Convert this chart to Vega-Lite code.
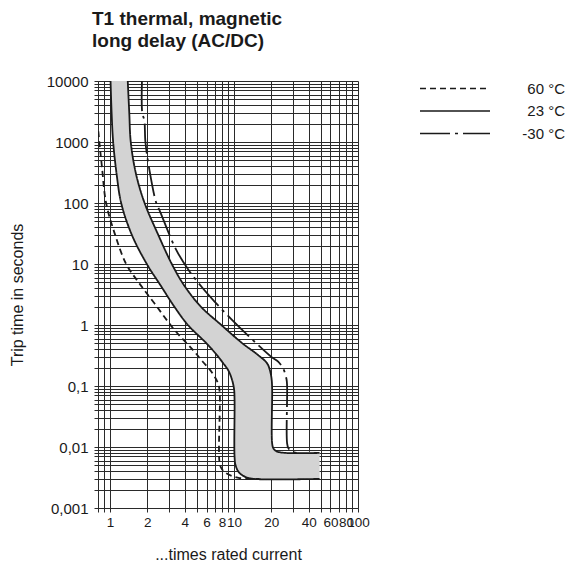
{
  "$schema": "https://vega.github.io/schema/vega-lite/v6.json",
  "width": 260,
  "height": 427,
  "autosize": {"type": "none"},
  "padding": {"left": 98, "top": 81, "right": 210, "bottom": 55},
  "background": "white",
  "title": {
    "text": ["T1 thermal, magnetic", "long delay (AC/DC)"],
    "anchor": "start",
    "frame": "group",
    "fontSize": 19,
    "fontWeight": "bold",
    "font": "Liberation Sans",
    "lineHeight": 22,
    "offset": 23,
    "dx": -6,
    "color": "#1a1a1a"
  },
  "config": {
    "view": {"stroke": null},
    "axis": {
      "grid": true,
      "gridColor": "#2a2a2a",
      "gridWidth": 1,
      "gridOpacity": 1,
      "domainColor": "#2a2a2a",
      "tickColor": "#2a2a2a",
      "tickSize": 4,
      "labelFont": "Liberation Sans",
      "labelFontSize": 15,
      "labelColor": "#1a1a1a",
      "titleFont": "Liberation Sans",
      "titleFontSize": 16,
      "titleFontWeight": "normal",
      "titleColor": "#1a1a1a",
      "labelOverlap": false,
      "labelFlush": false
    }
  },
  "datasets": {
    "band": [
      {"y": 10000, "xl": 1.01, "xr": 1.39},
      {"y": 3000, "xl": 1.03, "xr": 1.43},
      {"y": 1000, "xl": 1.06, "xr": 1.47},
      {"y": 300, "xl": 1.13, "xr": 1.62},
      {"y": 100, "xl": 1.23, "xr": 1.9},
      {"y": 30, "xl": 1.5, "xr": 2.45},
      {"y": 10, "xl": 1.98, "xr": 3.15},
      {"y": 4.5, "xl": 2.55, "xr": 3.95},
      {"y": 2.0, "xl": 3.3, "xr": 5.4},
      {"y": 1.0, "xl": 4.25, "xr": 7.9},
      {"y": 0.5, "xl": 6.0, "xr": 11.7},
      {"y": 0.33, "xl": 7.2, "xr": 15.4},
      {"y": 0.235, "xl": 8.2, "xr": 18.5},
      {"y": 0.18, "xl": 9.0, "xr": 19.5},
      {"y": 0.13, "xl": 9.6, "xr": 20.1},
      {"y": 0.09, "xl": 10.0, "xr": 20.3},
      {"y": 0.06, "xl": 10.1, "xr": 20.3},
      {"y": 0.0115, "xl": 10.1, "xr": 20.3},
      {"y": 0.0095, "xl": 10.1, "xr": 20.8},
      {"y": 0.0085, "xl": 10.1, "xr": 22},
      {"y": 0.008, "xl": 10.1, "xr": 26},
      {"y": 0.008, "xl": 10.1, "xr": 49},
      {"y": 0.007, "xl": 10.1, "xr": 49},
      {"y": 0.005, "xl": 10.3, "xr": 49},
      {"y": 0.0038, "xl": 11, "xr": 49},
      {"y": 0.0032, "xl": 12.5, "xr": 49},
      {"y": 0.003, "xl": 14.5, "xr": 49}
    ],
    "curves": [
      {"curve": "23min", "series": "23 °C", "x": 1.01, "y": 10000},
      {"curve": "23min", "series": "23 °C", "x": 1.03, "y": 3000},
      {"curve": "23min", "series": "23 °C", "x": 1.06, "y": 1000},
      {"curve": "23min", "series": "23 °C", "x": 1.13, "y": 300},
      {"curve": "23min", "series": "23 °C", "x": 1.23, "y": 100},
      {"curve": "23min", "series": "23 °C", "x": 1.5, "y": 30},
      {"curve": "23min", "series": "23 °C", "x": 1.98, "y": 10},
      {"curve": "23min", "series": "23 °C", "x": 2.55, "y": 4.5},
      {"curve": "23min", "series": "23 °C", "x": 3.3, "y": 2.0},
      {"curve": "23min", "series": "23 °C", "x": 4.25, "y": 1.0},
      {"curve": "23min", "series": "23 °C", "x": 6.0, "y": 0.5},
      {"curve": "23min", "series": "23 °C", "x": 7.2, "y": 0.33},
      {"curve": "23min", "series": "23 °C", "x": 8.2, "y": 0.235},
      {"curve": "23min", "series": "23 °C", "x": 9.0, "y": 0.18},
      {"curve": "23min", "series": "23 °C", "x": 9.6, "y": 0.13},
      {"curve": "23min", "series": "23 °C", "x": 10.0, "y": 0.09},
      {"curve": "23min", "series": "23 °C", "x": 10.1, "y": 0.06},
      {"curve": "23min", "series": "23 °C", "x": 10.1, "y": 0.007},
      {"curve": "23min", "series": "23 °C", "x": 10.3, "y": 0.005},
      {"curve": "23min", "series": "23 °C", "x": 11, "y": 0.0038},
      {"curve": "23min", "series": "23 °C", "x": 12.5, "y": 0.0032},
      {"curve": "23min", "series": "23 °C", "x": 14.5, "y": 0.003},
      {"curve": "23min", "series": "23 °C", "x": 49, "y": 0.003},
      {"curve": "23max", "series": "23 °C", "x": 1.39, "y": 10000},
      {"curve": "23max", "series": "23 °C", "x": 1.43, "y": 3000},
      {"curve": "23max", "series": "23 °C", "x": 1.47, "y": 1000},
      {"curve": "23max", "series": "23 °C", "x": 1.62, "y": 300},
      {"curve": "23max", "series": "23 °C", "x": 1.9, "y": 100},
      {"curve": "23max", "series": "23 °C", "x": 2.45, "y": 30},
      {"curve": "23max", "series": "23 °C", "x": 3.15, "y": 10},
      {"curve": "23max", "series": "23 °C", "x": 3.95, "y": 4.5},
      {"curve": "23max", "series": "23 °C", "x": 5.4, "y": 2.0},
      {"curve": "23max", "series": "23 °C", "x": 7.9, "y": 1.0},
      {"curve": "23max", "series": "23 °C", "x": 11.7, "y": 0.5},
      {"curve": "23max", "series": "23 °C", "x": 15.4, "y": 0.33},
      {"curve": "23max", "series": "23 °C", "x": 18.5, "y": 0.235},
      {"curve": "23max", "series": "23 °C", "x": 19.5, "y": 0.18},
      {"curve": "23max", "series": "23 °C", "x": 20.1, "y": 0.13},
      {"curve": "23max", "series": "23 °C", "x": 20.3, "y": 0.09},
      {"curve": "23max", "series": "23 °C", "x": 20.3, "y": 0.0115},
      {"curve": "23max", "series": "23 °C", "x": 20.8, "y": 0.0095},
      {"curve": "23max", "series": "23 °C", "x": 22, "y": 0.0085},
      {"curve": "23max", "series": "23 °C", "x": 26, "y": 0.008},
      {"curve": "23max", "series": "23 °C", "x": 49, "y": 0.008},
      {"curve": "60min", "series": "60 °C", "x": 0.805, "y": 1500},
      {"curve": "60min", "series": "60 °C", "x": 0.82, "y": 1000},
      {"curve": "60min", "series": "60 °C", "x": 0.86, "y": 400},
      {"curve": "60min", "series": "60 °C", "x": 0.93, "y": 100},
      {"curve": "60min", "series": "60 °C", "x": 1.1, "y": 30},
      {"curve": "60min", "series": "60 °C", "x": 1.35, "y": 10},
      {"curve": "60min", "series": "60 °C", "x": 1.7, "y": 5},
      {"curve": "60min", "series": "60 °C", "x": 2.28, "y": 2.27},
      {"curve": "60min", "series": "60 °C", "x": 3.31, "y": 0.83},
      {"curve": "60min", "series": "60 °C", "x": 4.66, "y": 0.39},
      {"curve": "60min", "series": "60 °C", "x": 5.6, "y": 0.25},
      {"curve": "60min", "series": "60 °C", "x": 6.6, "y": 0.17},
      {"curve": "60min", "series": "60 °C", "x": 7.44, "y": 0.11},
      {"curve": "60min", "series": "60 °C", "x": 7.66, "y": 0.08},
      {"curve": "60min", "series": "60 °C", "x": 7.66, "y": 0.0054},
      {"curve": "60min", "series": "60 °C", "x": 8.0, "y": 0.0043},
      {"curve": "60min", "series": "60 °C", "x": 8.66, "y": 0.0037},
      {"curve": "60min", "series": "60 °C", "x": 11.1, "y": 0.0031},
      {"curve": "60min", "series": "60 °C", "x": 16, "y": 0.003},
      {"curve": "m30max", "series": "-30 °C", "x": 1.81, "y": 10000},
      {"curve": "m30max", "series": "-30 °C", "x": 1.82, "y": 2960},
      {"curve": "m30max", "series": "-30 °C", "x": 1.89, "y": 2290},
      {"curve": "m30max", "series": "-30 °C", "x": 1.93, "y": 1000},
      {"curve": "m30max", "series": "-30 °C", "x": 2.08, "y": 347},
      {"curve": "m30max", "series": "-30 °C", "x": 2.36, "y": 100},
      {"curve": "m30max", "series": "-30 °C", "x": 2.5, "y": 77},
      {"curve": "m30max", "series": "-30 °C", "x": 3.42, "y": 17},
      {"curve": "m30max", "series": "-30 °C", "x": 4.3, "y": 8},
      {"curve": "m30max", "series": "-30 °C", "x": 5.6, "y": 4.0},
      {"curve": "m30max", "series": "-30 °C", "x": 7.0, "y": 2.4},
      {"curve": "m30max", "series": "-30 °C", "x": 9.5, "y": 1.25},
      {"curve": "m30max", "series": "-30 °C", "x": 13, "y": 0.67},
      {"curve": "m30max", "series": "-30 °C", "x": 20, "y": 0.3},
      {"curve": "m30max", "series": "-30 °C", "x": 22.7, "y": 0.25},
      {"curve": "m30max", "series": "-30 °C", "x": 25, "y": 0.19},
      {"curve": "m30max", "series": "-30 °C", "x": 26.5, "y": 0.13},
      {"curve": "m30max", "series": "-30 °C", "x": 26.8, "y": 0.1},
      {"curve": "m30max", "series": "-30 °C", "x": 26.8, "y": 0.0115},
      {"curve": "m30max", "series": "-30 °C", "x": 27.5, "y": 0.0095},
      {"curve": "m30max", "series": "-30 °C", "x": 29, "y": 0.0085},
      {"curve": "m30max", "series": "-30 °C", "x": 32, "y": 0.008}
    ]
  },
  "layer": [
    {
      "data": {"name": "band"},
      "mark": {"type": "area", "orient": "horizontal", "color": "#d3d3d3", "opacity": 1, "interpolate": "catmull-rom", "clip": true},
      "encoding": {
        "y": {"field": "y", "type": "quantitative", "scale": {"type": "log", "domain": [0.001, 10000], "nice": false},
          "axis": {
            "title": "Trip time in seconds",
            "titlePadding": 21,
            "values": [0.001,0.002,0.003,0.004,0.005,0.006,0.007,0.008,0.009,0.01,0.02,0.03,0.04,0.05,0.06,0.07,0.08,0.09,0.1,0.2,0.3,0.4,0.5,0.6,0.7,0.8,0.9,1,2,3,4,5,6,7,8,9,10,20,30,40,50,60,70,80,90,100,200,300,400,500,600,700,800,900,1000,2000,3000,4000,5000,6000,7000,8000,9000,10000],
            "labelExpr": "indexof([0.001,0.01,0.1,1,10,100,1000,10000], datum.value) >= 0 ? replace(toString(datum.value), '.', ',') : ''",
            "labelPadding": 6
          }},
        "x": {"field": "xl", "type": "quantitative", "scale": {"type": "log", "domain": [0.8, 100], "nice": false},
          "axis": {
            "title": "...times rated current",
            "titlePadding": 18,
            "labelFontSize": 13.5,
            "values": [0.8,0.9,1,2,3,4,5,6,7,8,9,10,20,30,40,50,60,70,80,90,100],
            "labelExpr": "indexof([1,2,4,6,8,10,20,40,60,80,100], datum.value) >= 0 ? datum.value : ''",
            "labelPadding": 3
          }},
        "x2": {"field": "xr"},
        "order": {"value": null}
      }
    },
    {
      "data": {"name": "curves"},
      "mark": {"type": "line", "color": "#1a1a1a", "strokeWidth": 1.8, "interpolate": "catmull-rom", "clip": true},
      "encoding": {
        "x": {"field": "x", "type": "quantitative"},
        "y": {"field": "y", "type": "quantitative"},
        "detail": {"field": "curve"},
        "order": {"value": null},
        "strokeDash": {
          "field": "series",
          "type": "nominal",
          "scale": {"domain": ["60 °C", "23 °C", "-30 °C"], "range": [[6, 4], [1, 0], [30, 5, 3, 5]]},
          "legend": {
            "title": null,
            "orient": "none",
            "legendX": 349.5,
            "legendY": 0,
            "padding": 0,
            "symbolType": "M-7,0H7",
            "symbolSize": 100,
            "symbolStrokeWidth": 1.5,
            "symbolStrokeColor": "#1a1a1a",
            "labelFont": "Liberation Sans",
            "labelFontSize": 15,
            "labelColor": "#1a1a1a",
            "labelAlign": "right",
            "labelOffset": 102.5,
            "rowPadding": 6.5,
            "encode": {
              "symbols": {"update": {"strokeDash": {"signal": "datum.value === '60 °C' ? [10, 11] : datum.value === '-30 °C' ? [30, 6, 4, 6] : [1, 0]"}}}
            }
          }
        }
      }
    }
  ]
}
